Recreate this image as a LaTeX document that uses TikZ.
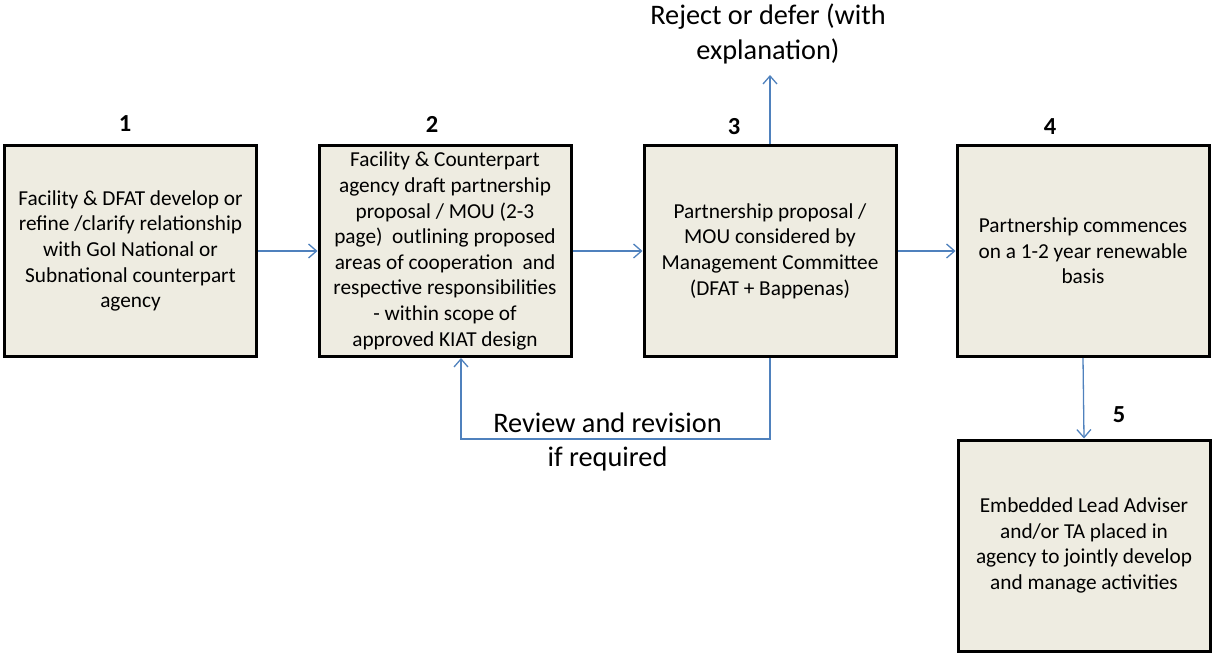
\documentclass[tikz,border=0pt]{standalone}
\usepackage{fontspec}
\setmainfont{Carlito}
\usetikzlibrary{arrows.meta}
\definecolor{boxfill}{HTML}{EEECE1}
\definecolor{flowblue}{HTML}{4F81BD}
\tikzset{
  stage/.style={draw=black, line width=3pt, fill=boxfill, rectangle,
    minimum width=252pt, minimum height=211pt, inner sep=0pt,
    align=center, font=\fontsize{21.3}{25.6}\selectfont},
  stagenum/.style={font=\fontsize{24.5}{26}\selectfont\bfseries, inner sep=0pt},
  biglabel/.style={align=center, inner sep=0pt, font=\fontsize{28.3}{34.5}\selectfont},
  flow/.style={draw=flowblue, line width=1.3pt,
    -{Straight Barb[length=8pt,width=14pt,line width=1.3pt]}}
}
\begin{document}
\begin{tikzpicture}[x=1pt, y=-1pt]
  \useasboundingbox (0,0) rectangle (1212,653);

  % the five stages
  \node[stage] (b1) at (130.5,251) {Facility \& DFAT develop or\\refine /clarify relationship\\with GoI National or\\Subnational counterpart\\agency};
  \node[stage] (b2) at (445,251) {Facility \& Counterpart\\agency draft partnership\\proposal / MOU (2-3\\page)\ \ outlining proposed\\areas of cooperation\ \ and\\respective responsibilities\\- within scope of\\approved KIAT design};
  \node[stage] (b3) at (770,251) {Partnership proposal /\\MOU considered by\\Management Committee\\(DFAT + Bappenas)};
  \node[stage] (b4) at (1083,251) {Partnership commences\\on a 1-2 year renewable\\basis};
  \node[stage] (b5) at (1084,545.5) {Embedded Lead Adviser\\and/or TA placed in\\agency to jointly develop\\and manage activities};

  % stage numbers
  \node[stagenum] (n1) at (125,124) {1};
  \node[stagenum] (n2) at (432,124) {2};
  \node[stagenum] (n3) at (734,127) {3};
  \node[stagenum] (n4) at (1050,127) {4};
  \node[stagenum] (n5) at (1119,415) {5};

  % free-standing labels
  \node[biglabel] (rej) at (768,34) {Reject or defer (with\\explanation)};
  \node[biglabel] (rev) at (607.5,442) {Review and revision\\if required};
  \coordinate (rejtip) at (770,75);
  \coordinate (back) at (461,439);

  % connectors
  \draw[flow] (b1.east) -- (b2.west);
  \draw[flow] (b2.east) -- (b3.west);
  \draw[flow] (b3.east) -- (b4.west);
  \draw[flow] (b3.north) -- (rejtip);
  \draw[flow] (b3.south) |- (back) -- (back |- b2.south);
  \draw[flow] (b4.south) -- (b5.north);
\end{tikzpicture}
\end{document}
